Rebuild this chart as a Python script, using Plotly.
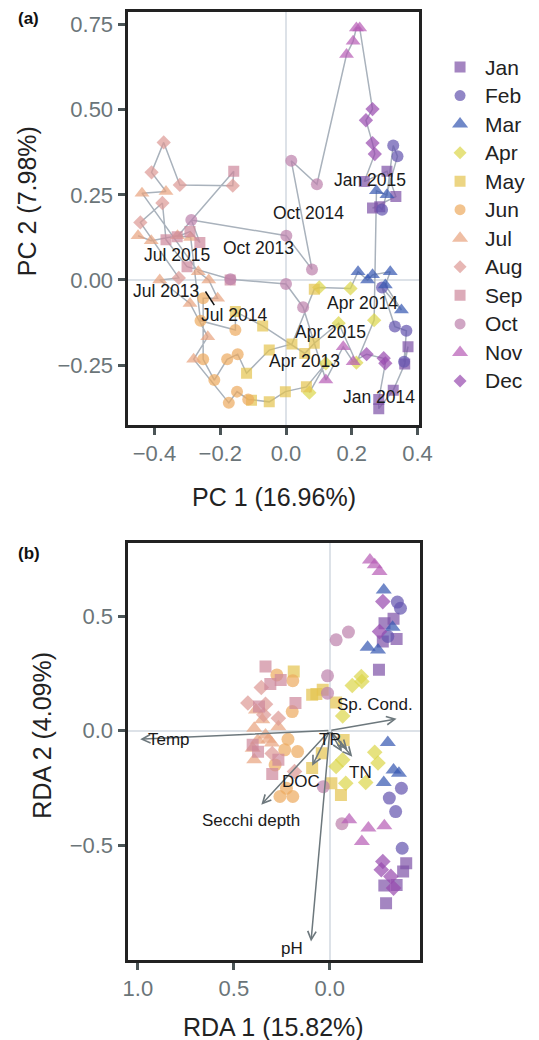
import plotly.graph_objects as go

W, H = 539, 1040
FONT = "Liberation Sans, Arial, Helvetica, sans-serif"

# ---------------- data ----------------
months = ["Jan", "Feb", "Mar", "Apr", "May", "Jun", "Jul", "Aug", "Sep", "Oct", "Nov", "Dec"]
month_colors = ["#7e51a6", "#6252ae", "#3355b0", "#dbd648", "#e4c34f", "#eca95e",
                "#e8a27d", "#dd9894", "#cd889b", "#bc80ab", "#b65bb5", "#9748ae"]
month_symbols = ["square", "circle", "triangle-up", "diamond"] * 3
month_sizes = [11, 12, 13, 11] * 3

# Panel (a): PCA sample scores in time order
pca_dates = (["2013-04"] * 2 + ["2013-05"] * 4 + ["2013-06"] * 3 + ["2013-07"] * 4 +
             ["2013-08"] * 3 + ["2013-09"] * 3 + ["2013-10"] * 3 + ["2013-11"] * 3 +
             ["2013-12"] * 3 + ["2014-01"] * 5 + ["2014-02"] * 4 + ["2014-03"] * 6 +
             ["2014-04"] * 2 + ["2014-05"] * 4 + ["2014-06"] * 5 + ["2014-07"] * 5 +
             ["2014-08"] * 4 + ["2014-09"] * 4 + ["2014-10"] * 5 + ["2014-11"] * 4 +
             ["2014-12"] * 4 + ["2015-01"] * 5 + ["2015-02"] * 3 + ["2015-03"] * 2 +
             ["2015-04"] * 3 + ["2015-05"] * 4 + ["2015-06"] * 2 + ["2015-07"] * 4)
pca_pc1 = [0.071, 0.121,
           0.062, -0.002, -0.051, -0.105,
           -0.115, -0.149, -0.174,
           -0.281, -0.238, -0.292, -0.384,
           -0.326, -0.443, -0.376,
           -0.365, -0.301, -0.170,
           -0.169, 0.000, 0.052,
           0.121, 0.174, 0.204,
           0.245, 0.297, 0.302,
           0.282, 0.282, 0.326, 0.361, 0.371,
           0.359, 0.366, 0.331, 0.292,
           0.351, 0.302, 0.317, 0.263, 0.248, 0.219,
           0.196, 0.101,
           0.086, 0.018, -0.051, -0.120,
           -0.147, -0.179, -0.218, -0.252, -0.252,
           -0.208, -0.235, -0.267, -0.438, -0.365,
           -0.409, -0.372, -0.323, -0.162,
           -0.159, -0.331, -0.292, -0.262,
           -0.288, 0.001, 0.079, 0.016, 0.094,
           0.184, 0.204, 0.214, 0.224,
           0.263, 0.243, 0.263, 0.270,
           0.238, 0.307, 0.334, 0.263, 0.285,
           0.292, 0.339, 0.326,
           0.307, 0.275,
           0.268, 0.214, 0.160,
           0.086, 0.057, -0.071, -0.154,
           -0.154, -0.260,
           -0.290, -0.330, -0.410, -0.450]
pca_pc2 = [-0.331, -0.245,
           -0.314, -0.328, -0.358, -0.353,
           -0.351, -0.328, -0.361,
           -0.233, -0.167, -0.069, 0.000,
           0.006, 0.169, 0.226,
           0.118, 0.039, 0.000,
           0.002, -0.012, -0.080,
           -0.294, -0.196, -0.240,
           -0.218, -0.230, -0.245,
           -0.351, -0.378, -0.324, -0.247, -0.196,
           -0.240, -0.149, -0.137, -0.022,
           -0.088, -0.015, 0.024, 0.015, 0.000, 0.024,
           -0.025, -0.022,
           -0.027, -0.188, -0.206, -0.274,
           -0.218, -0.233, -0.294, -0.233, -0.054,
           -0.054, 0.000, 0.024, 0.255, 0.260,
           0.316, 0.404, 0.279, 0.277,
           0.319, 0.127, 0.142, 0.110,
           0.176, 0.130, 0.031, 0.350, 0.281,
           0.662, 0.701, 0.740, 0.740,
           0.502, 0.469, 0.402, 0.370,
           0.289, 0.319, 0.245, 0.211, 0.215,
           0.206, 0.363, 0.395,
           0.250, 0.262,
           -0.118, -0.243, -0.127,
           -0.186, -0.216, -0.135, -0.093,
           -0.147, -0.120,
           0.125, 0.130, 0.115, 0.130]

pca_label_text = ["Jan 2015", "Oct 2014", "Oct 2013", "Jul 2015", "Jul 2013",
                  "Jul 2014", "Apr 2014", "Apr 2015", "Apr 2013", "Jan 2014"]
pca_label_x = [0.256, 0.069, -0.085, -0.331, -0.365, -0.159, 0.233, 0.135, 0.055, 0.282]
pca_label_y = [0.294, 0.196, 0.093, 0.074, -0.031, -0.103, -0.069, -0.152, -0.237, -0.343]

# Panel (b): RDA sample scores grouped by month
rda_month = ([1] * 10 + [2] * 7 + [3] * 8 + [4] * 10 + [5] * 10 + [6] * 10 +
             [7] * 10 + [8] * 7 + [9] * 9 + [10] * 6 + [11] * 7 + [12] * 6)
rda1 = [-0.332, -0.285, -0.348, -0.276, -0.256, -0.398, -0.382, -0.284, -0.348, -0.293,
        -0.352, -0.368, -0.302, -0.373, -0.310, -0.343, -0.377,
        -0.281, -0.327, -0.197, -0.251, -0.302, -0.332, -0.360, -0.281,
        -0.164, -0.117, -0.167, -0.067, -0.234, -0.251, -0.033, -0.083, -0.187, -0.067,
        0.188, 0.092, 0.037, -0.033, -0.072, 0.092, 0.042, -0.008, -0.058, 0.070,
        0.276, 0.193, 0.196, 0.218, 0.168, 0.260, 0.193, 0.226, 0.235, 0.285,
        0.385, 0.352, 0.394, 0.268, 0.319, 0.402, 0.375, 0.335, 0.394, 0.302,
        0.357, 0.427, 0.335, 0.344, 0.268, 0.184, 0.300,
        0.335, 0.310, 0.256, 0.179, 0.369, 0.402, 0.268, 0.374, 0.300,
        -0.097, -0.033, 0.012, 0.012, 0.034, -0.063,
        -0.209, -0.234, -0.259, -0.101, -0.201, -0.284, -0.167,
        -0.276, -0.259, -0.276, -0.268, -0.318, -0.332]
rda2 = [0.488, 0.469, 0.400, 0.389, 0.265, -0.579, -0.616, -0.677, -0.674, -0.754,
        0.561, 0.534, 0.411, -0.252, -0.295, -0.354, -0.514,
        0.614, 0.451, 0.364, 0.352, -0.052, -0.172, -0.186, -0.227,
        0.236, 0.197, 0.214, 0.064, -0.095, -0.142, -0.157, -0.230, -0.227, -0.128,
        0.258, 0.156, 0.178, 0.122, -0.041, -0.164, -0.099, -0.230, -0.281, 0.160,
        0.243, 0.218, 0.083, -0.038, -0.092, -0.288, -0.288, -0.252, -0.084, -0.150,
        0.090, 0.047, 0.010, 0.017, -0.038, -0.077, -0.042, -0.019, -0.128, -0.054,
        0.188, 0.120, 0.115, 0.069, 0.054, -0.179, -0.100,
        0.280, 0.203, 0.221, 0.120, 0.105, -0.062, -0.128, -0.093, -0.190,
        0.430, 0.396, 0.239, 0.163, -0.245, -0.407,
        0.745, 0.724, 0.694, -0.390, -0.426, -0.416, -0.485,
        0.563, 0.432, -0.572, -0.608, -0.637, -0.688]

# Environmental vectors (RDA biplot arrows)
env_vars = ["Temp", "Sp. Cond.", "TP", "", "TN", "DOC", "Secchi depth", "pH"]
env_rda1 = [0.988, -0.348, -0.063, -0.092, -0.117, 0.092, 0.357, 0.098]
env_rda2 = [-0.038, 0.051, -0.093, -0.084, -0.114, -0.154, -0.324, -0.921]
env_label_x = [0.838, -0.234, 0.000, None, -0.159, 0.151, 0.411, 0.196]
env_label_y = [-0.041, 0.112, -0.038, None, -0.183, -0.223, -0.393, -0.950]

# ---------------- figure ----------------
def px_x(p):
    return p / W


def px_y(p):
    return 1 - p / H


OPA = 0.7
fig = go.Figure()

# path of PCA samples
fig.add_trace(go.Scatter(x=pca_pc1, y=pca_pc2, mode="lines",
                         line=dict(color="#a9b2bc", width=1.5),
                         hoverinfo="skip", showlegend=False, xaxis="x", yaxis="y"))

for mi, m in enumerate(months):
    xs = [x for x, d in zip(pca_pc1, pca_dates) if int(d[5:]) == mi + 1]
    ys = [y for y, d in zip(pca_pc2, pca_dates) if int(d[5:]) == mi + 1]
    fig.add_trace(go.Scatter(x=xs, y=ys, mode="markers", name=m, showlegend=False,
                             marker=dict(symbol=month_symbols[mi], size=month_sizes[mi],
                                         color=month_colors[mi], opacity=OPA,
                                         line=dict(width=0)),
                             xaxis="x", yaxis="y"))

for mi, m in enumerate(months):
    xs = [x for x, k in zip(rda1, rda_month) if k == mi + 1]
    ys = [y for y, k in zip(rda2, rda_month) if k == mi + 1]
    fig.add_trace(go.Scatter(x=xs, y=ys, mode="markers", name=m, showlegend=False,
                             marker=dict(symbol=month_symbols[mi], size=month_sizes[mi] + 1,
                                         color=month_colors[mi], opacity=OPA,
                                         line=dict(width=0)),
                             xaxis="x2", yaxis="y2"))

# manual legend
fig.add_trace(go.Scatter(x=[0.32] * 12, y=list(range(12)), mode="markers",
                         marker=dict(symbol=month_symbols, size=[11, 11, 14, 10] * 3,
                                     color=month_colors, opacity=OPA, line=dict(width=0)),
                         showlegend=False, hoverinfo="skip", xaxis="x3", yaxis="y3"))

annotations = []
for i, m in enumerate(months):
    annotations.append(dict(x=0.556, y=i, xref="x3", yref="y3", text=m, showarrow=False,
                            xanchor="left", yanchor="middle",
                            font=dict(size=21, color="#222222", family=FONT)))

for t, x, y in zip(pca_label_text, pca_label_x, pca_label_y):
    annotations.append(dict(x=x, y=y, xref="x", yref="y", text=t, showarrow=False,
                            xanchor="center", yanchor="middle",
                            font=dict(size=17.5, color="#1a1a1a", family=FONT)))

# arrows
for name, x, y in zip(env_vars, env_rda1, env_rda2):
    annotations.append(dict(x=x, y=y, ax=0, ay=0, xref="x2", yref="y2", axref="x2", ayref="y2",
                            showarrow=True, arrowhead=5, arrowsize=1.1, arrowwidth=1.5,
                            arrowcolor="#6d787d", text=""))
for name, x, y in zip(env_vars, env_label_x, env_label_y):
    if name:
        annotations.append(dict(x=x, y=y, xref="x2", yref="y2", text=name, showarrow=False,
                                xanchor="center", yanchor="middle",
                                font=dict(size=17, color="#1a1a1a", family=FONT)))

# axis titles & panel labels
title_font = dict(size=25, color="#222222", family=FONT)
ctr = dict(xanchor="center", yanchor="middle", showarrow=False, xref="paper", yref="paper")
annotations += [
    dict(x=px_x(279), y=px_y(497), text="PC 1 (16.96%)", font=title_font, **ctr),
    dict(x=px_x(23), y=px_y(201), text="PC 2 (7.98%)", textangle=-90, font=title_font, **ctr),
    dict(x=px_x(278), y=px_y(1027), text="RDA 1 (15.82%)", font=title_font, **ctr),
    dict(x=px_x(38), y=px_y(735), text="RDA 2 (4.09%)", textangle=-90, font=title_font, **ctr),
    dict(x=px_x(24), y=px_y(18), text="<b>(a)</b>",
         font=dict(size=17, color="#111111", family=FONT), **ctr),
    dict(x=px_x(25), y=px_y(553), text="<b>(b)</b>",
         font=dict(size=17, color="#111111", family=FONT), **ctr),
]

axis_common = dict(showline=True, mirror=True, linecolor="#222222", linewidth=3,
                   ticks="outside", ticklen=7, tickwidth=3, tickcolor="#4b5557",
                   tickfont=dict(size=22, color="#6b7579", family=FONT),
                   showgrid=False, zeroline=True, zerolinecolor="#dde2e8", zerolinewidth=1.5)

fig.update_layout(
    width=W, height=H, margin=dict(l=0, r=0, t=0, b=0),
    paper_bgcolor="white", plot_bgcolor="white", showlegend=False,
    xaxis=dict(domain=[px_x(127), px_x(429)], range=[-0.482, 0.404],
               tickvals=[-0.4, -0.2, 0.0, 0.2, 0.4], tickformat=".1f", anchor="y", **axis_common),
    yaxis=dict(domain=[px_y(425), px_y(12)], range=[-0.426, 0.787],
               tickvals=[-0.25, 0.0, 0.25, 0.5, 0.75], tickformat=".2f", anchor="x", **axis_common),
    xaxis2=dict(domain=[px_x(127), px_x(430)], range=[1.054, -0.469],
                tickvals=[1.0, 0.5, 0.0], tickformat=".1f", anchor="y2", **axis_common),
    yaxis2=dict(domain=[px_y(960), px_y(543)], range=[-1.002, 0.819],
                tickvals=[-0.5, 0.0, 0.5], tickformat=".1f", anchor="x2", **axis_common),
    xaxis3=dict(domain=[px_x(440), 1.0], range=[0, 1], visible=False, anchor="y3"),
    yaxis3=dict(domain=[px_y(395.25), px_y(52.75)], range=[11.5, -0.5], visible=False, anchor="x3"),
    annotations=annotations,
    shapes=[dict(type="line", xref="x", yref="y", x0=-0.245, y0=-0.034, x1=-0.218, y1=-0.074,
                 line=dict(color="#111111", width=1.5))],
)

fig.write_html("out.html")
